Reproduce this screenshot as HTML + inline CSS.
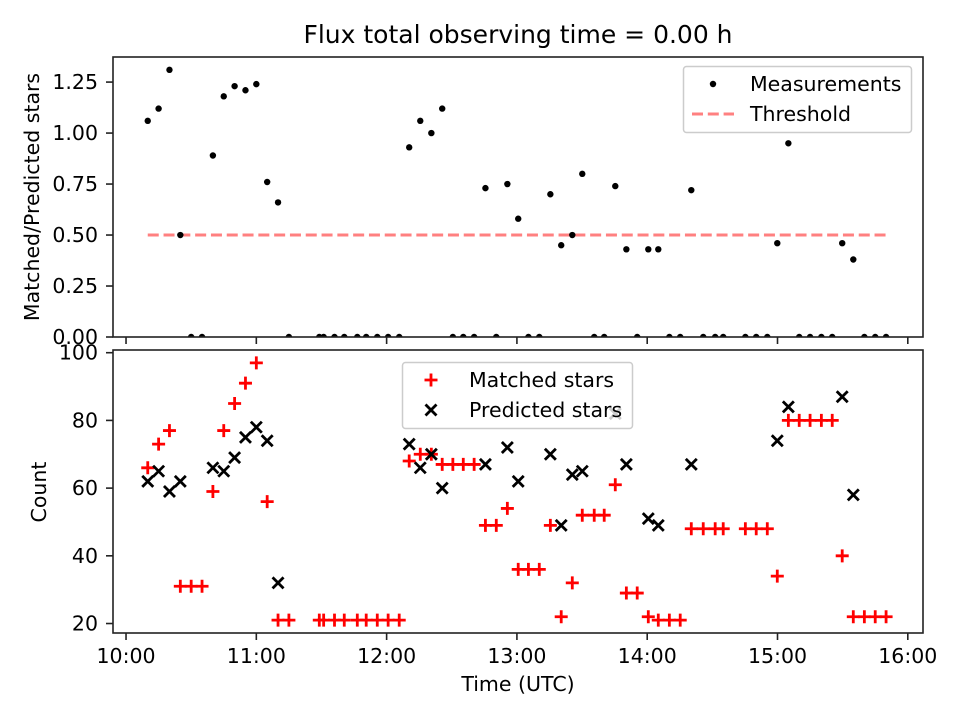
<!DOCTYPE html>
<html><head><meta charset="utf-8">
<style>
html,body{margin:0;padding:0;background:#fff;}
svg{display:block;font-family:"DejaVu Sans","Liberation Sans",sans-serif;}
</style></head>
<body>
<svg id="chart" width="960" height="720" viewBox="0 0 960 720"></svg>
<script>
// ---- data ----
const times = [10,15,20,25,30,35,40,45,50,55,60,65,70,75,
 89,91,96,100.5,106.5,110.6,115.7,120.7,125.8,
 130.4,135.5,140.6,145.6,150.5,155.3,160.3,165.5,170.5,175.6,
 180.6,185.3,190.3,195.4,200.4,205.5,210.1,215.6,220.2,
 225.3,230.4,235.4,240.5,245.1,250.2,255.2,
 260.3,265.8,271.3,275,
 285.2,290.2,295.3,
 299.9,305,310,315,320.2,325.2,
 329.8,334.9,340,345,350];
const ratio = [1.06,1.12,1.31,0.5,0,0,0.89,1.18,1.23,1.21,1.24,0.76,0.66,0,
 0,0,0,0,0,0,0,0,0,
 0.93,1.06,1.0,1.12,0,0,0,0.73,0,0.75,
 0.58,0,0,0.70,0.45,0.5,0.8,0,0,
 0.74,0.43,0,0.43,0.43,0,0,
 0.72,0,0,0,
 0,0,0,
 0.46,0.95,0,0,0,0,
 0.46,0.38,0,0,0];
const matched = [66,73,77,31,31,31,59,77,85,91,97,56,21,21,
 21,21,21,21,21,21,21,21,21,
 68,70,70,67,67,67,67,49,49,54,
 36,36,36,49,22,32,52,52,52,
 61,29,29,22,21,21,21,
 48,48,48,48,
 48,48,48,
 34,80,80,80,80,80,
 40,22,22,22,22];
const predicted = [62,65,59,62,null,null,66,65,69,75,78,74,32,null,
 null,null,null,null,null,null,null,null,null,
 73,66,70,60,null,null,null,67,null,72,
 62,null,null,70,49,64,65,null,null,
 82,67,null,51,49,null,null,
 67,null,null,null,
 null,null,null,
 74,84,null,null,null,null,
 87,58,null,null,null];
const threshold = 0.5;
const xTickLabels = ["10:00","11:00","12:00","13:00","14:00","15:00","16:00"];
const xTickMinutes = [0,60,120,180,240,300,360];
const topTicks = [0,0.25,0.5,0.75,1.0,1.25];
const topTickLabels = ["0.00","0.25","0.50","0.75","1.00","1.25"];
const botTicks = [20,40,60,80,100];
const botTickLabels = ["20","40","60","80","100"];

// ---- layout ----
const NS="http://www.w3.org/2000/svg";
const svg=document.getElementById('chart');
const L=113,R=923;
const T1=57,B1=337,T2=350,B2=633;
const XMIN=-6,XMAX=367;
const TOPMAX=1.373, BOTMIN=17.2, BOTMAX=100.8;
const FS=20.5;
function xs(m){return L+(m-XMIN)/(XMAX-XMIN)*(R-L);}
function yTop(v){return B1-v/TOPMAX*(B1-T1);}
function yBot(v){return B2-(v-BOTMIN)/(BOTMAX-BOTMIN)*(B2-T2);}
function el(tag,attrs,parent){const e=document.createElementNS(NS,tag);for(const k in attrs)e.setAttribute(k,attrs[k]);(parent||svg).appendChild(e);return e;}
function txt(s,attrs,parent){const e=el('text',attrs,parent);e.textContent=s;return e;}

const title=txt("Flux total observing time = 0.00 h",{x:518,y:43,'font-size':25,'text-anchor':'middle',fill:'#000'});



// ---------- top panel ----------
const gTop=el('g',{});


const clipT=el('clipPath',{id:'clipT'});el('rect',{x:L,y:T1,width:R-L,height:B1-T1},clipT);
const gTopData=el('g',{'clip-path':'url(#clipT)'},gTop);
const thr=el('line',{x1:xs(times[0]),x2:xs(times[times.length-1]),y1:yTop(threshold),y2:yTop(threshold),stroke:'#ff8080','stroke-width':3,'stroke-dasharray':'11,4.8'},gTopData);


for(let i=0;i<times.length;i++){
  const c=el('circle',{cx:xs(times[i]),cy:yTop(ratio[i]),r:3.2,fill:'#000'},gTopData);
  
  
}
el('rect',{x:L,y:T1,width:R-L,height:B1-T1,fill:'none',stroke:'#222','stroke-width':1.6},gTop);
for(let i=0;i<topTicks.length;i++){
  const y=yTop(topTicks[i]);
  el('line',{x1:L-7,x2:L,y1:y,y2:y,stroke:'#222','stroke-width':1.6},gTop);
  const t=txt(topTickLabels[i],{x:L-15,y:y+7,'font-size':FS,'text-anchor':'end'},gTop);
  
  
}
for(let i=0;i<xTickMinutes.length;i++){
  const x=xs(xTickMinutes[i]);
  el('line',{x1:x,x2:x,y1:B1,y2:B1+7,stroke:'#222','stroke-width':1.6},gTop);
}
const ylt=txt("Matched/Predicted stars",{x:0,y:0,'font-size':FS,'text-anchor':'middle',transform:'translate(39,197) rotate(-90)'},gTop);


const lg1=el('g',{},gTop);


el('rect',{x:683.5,y:66.5,width:228,height:66,rx:3,fill:'rgba(255,255,255,0.8)',stroke:'#ccc','stroke-width':1.5},lg1);
el('circle',{cx:713,cy:84,r:3.2,fill:'#000'},lg1);
txt("Measurements",{x:750,y:91,'font-size':FS},lg1);
el('line',{x1:692,x2:734,y1:114,y2:114,stroke:'#ff8080','stroke-width':3,'stroke-dasharray':'11,4.8'},lg1);
txt("Threshold",{x:750,y:121,'font-size':FS},lg1);

// ---------- bottom panel ----------
const gBot=el('g',{});


const clipB=el('clipPath',{id:'clipB'});el('rect',{x:L,y:T2,width:R-L,height:B2-T2},clipB);
const gBotData=el('g',{'clip-path':'url(#clipB)'},gBot);
const S=6.5;
for(let i=0;i<times.length;i++){
  const x=xs(times[i]),y=yBot(matched[i]);
  const p=el('path',{d:`M${x-S} ${y}H${x+S}M${x} ${y-S}V${y+S}`,stroke:'#ff0000','stroke-width':2.8,fill:'none'},gBotData);
  
  
}
const K=5.5;
for(let i=0;i<times.length;i++){
  if(predicted[i]===null)continue;
  const x=xs(times[i]),y=yBot(predicted[i]);
  const p=el('path',{d:`M${x-K} ${y-K}L${x+K} ${y+K}M${x-K} ${y+K}L${x+K} ${y-K}`,stroke:'#000','stroke-width':2.8,fill:'none'},gBotData);
  
  
}
el('rect',{x:L,y:T2,width:R-L,height:B2-T2,fill:'none',stroke:'#222','stroke-width':1.6},gBot);
for(let i=0;i<botTicks.length;i++){
  const y=yBot(botTicks[i]);
  el('line',{x1:L-7,x2:L,y1:y,y2:y,stroke:'#222','stroke-width':1.6},gBot);
  const t=txt(botTickLabels[i],{x:L-15,y:y+7,'font-size':FS,'text-anchor':'end'},gBot);
  
  
}
for(let i=0;i<xTickMinutes.length;i++){
  const x=xs(xTickMinutes[i]);
  el('line',{x1:x,x2:x,y1:B2,y2:B2+7,stroke:'#222','stroke-width':1.6},gBot);
  const t=txt(xTickLabels[i],{x:x,y:B2+30,'font-size':FS,'text-anchor':'middle'},gBot);
  
  
}
const xt=txt("Time (UTC)",{x:518,y:691,'font-size':FS,'text-anchor':'middle'},gBot);


const ylb=txt("Count",{x:0,y:0,'font-size':FS,'text-anchor':'middle',transform:'translate(46,492) rotate(-90)'},gBot);


const lg2=el('g',{},gBot);


el('rect',{x:402.5,y:362.5,width:230,height:66,rx:3,fill:'rgba(255,255,255,0.8)',stroke:'#ccc','stroke-width':1.5},lg2);
el('path',{d:`M${431-S} 380H${431+S}M431 ${380-S}V${380+S}`,stroke:'#ff0000','stroke-width':2.8,fill:'none'},lg2);
txt("Matched stars",{x:469,y:387,'font-size':FS},lg2);
el('path',{d:`M${431-K} ${410-K}L${431+K} ${410+K}M${431-K} ${410+K}L${431+K} ${410-K}`,stroke:'#000','stroke-width':2.8,fill:'none'},lg2);
txt("Predicted stars",{x:469,y:417,'font-size':FS},lg2);
</script>
</body></html>
